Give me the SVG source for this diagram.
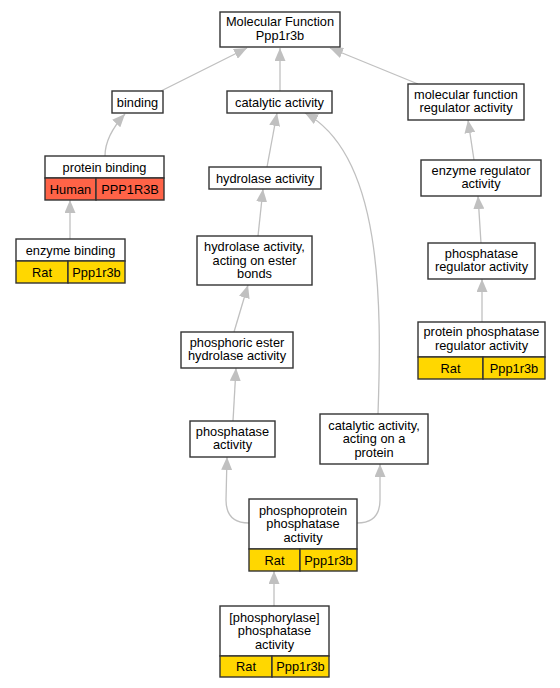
<svg xmlns="http://www.w3.org/2000/svg" width="560" height="688" viewBox="0 0 560 688">
<style>
text{font-family:"Liberation Sans",Arial,sans-serif;font-size:12.8px;fill:#000;text-anchor:middle}
.n{fill:#fff;stroke:#333;stroke-width:1.4}
.r{fill:#ff6347;stroke:#333;stroke-width:1.4}
.y{fill:#ffd700;stroke:#333;stroke-width:1.4}
.e{fill:none;stroke:#c0c0c0;stroke-width:1.3}
</style>
<defs>
<marker id="a" markerWidth="13" markerHeight="11" refX="13" refY="5.5" orient="auto" markerUnits="userSpaceOnUse">
<path d="M0,0 L13,5.5 L0,11 z" fill="#c0c0c0"/>
</marker>
</defs>
<rect width="560" height="688" fill="#fff"/>
<g id="edges">
<path class="e" marker-end="url(#a)" d="M161,91 L247,48"/>
<path class="e" marker-end="url(#a)" d="M280,91 L280,48"/>
<path class="e" marker-end="url(#a)" d="M418,84 L330,48"/>
<path class="e" marker-end="url(#a)" d="M105,156 C105,140 114,126 125,114"/>
<path class="e" marker-end="url(#a)" d="M70,239 L70,200"/>
<path class="e" marker-end="url(#a)" d="M267,167 L277,113"/>
<path class="e" marker-end="url(#a)" d="M258,236 L263,189"/>
<path class="e" marker-end="url(#a)" d="M234,332 L248,285"/>
<path class="e" marker-end="url(#a)" d="M233,421 L236,368"/>
<path class="e" marker-end="url(#a)" d="M249,523 C232,523 226,513 226,500 L227,457"/>
<path class="e" marker-end="url(#a)" d="M357,523 C374,523 380,513 380,500 L380,464"/>
<path class="e" marker-end="url(#a)" d="M378,414 C382,300 382,155 305,113"/>
<path class="e" marker-end="url(#a)" d="M474,160 L468,120"/>
<path class="e" marker-end="url(#a)" d="M481,243 L478,196"/>
<path class="e" marker-end="url(#a)" d="M482,322 L482,279"/>
<path class="e" marker-end="url(#a)" d="M274,606 L274,571"/>
</g>
<g id="mf"><rect class="n" x="220" y="12" width="120" height="35"/><text x="280" y="26.2">Molecular Function</text><text x="280" y="39.8">Ppp1r3b</text></g>
<g id="binding"><rect class="n" x="112" y="91" width="51" height="22"/><text x="137.5" y="106.5">binding</text></g>
<g id="catalytic"><rect class="n" x="227" y="91" width="105" height="22"/><text x="279.5" y="106.5">catalytic activity</text></g>
<g id="mfra"><rect class="n" x="408" y="84" width="116" height="36"/><text x="466" y="98.7">molecular function</text><text x="466" y="112.2">regulator activity</text></g>
<g id="pbinding"><rect class="n" x="45" y="156" width="119" height="22"/><text x="104.5" y="171.5">protein binding</text>
<rect class="r" x="45" y="178" width="51" height="22"/><rect class="r" x="96" y="178" width="68" height="22"/><text x="70.5" y="193.5">Human</text><text x="130" y="193.5">PPP1R3B</text></g>
<g id="ebinding"><rect class="n" x="16" y="239" width="109" height="22"/><text x="70.5" y="254.5">enzyme binding</text>
<rect class="y" x="16" y="261" width="52" height="22"/><rect class="y" x="68" y="261" width="57" height="22"/><text x="42" y="276.5">Rat</text><text x="96.5" y="276.5">Ppp1r3b</text></g>
<g id="hydrolase"><rect class="n" x="209" y="167" width="112" height="22"/><text x="265" y="182.5">hydrolase activity</text></g>
<g id="hydester"><rect class="n" x="197" y="236" width="115" height="49"/><text x="254.5" y="251">hydrolase activity,</text><text x="254.5" y="264.5">acting on ester</text><text x="254.5" y="278">bonds</text></g>
<g id="enzreg"><rect class="n" x="421" y="160" width="120" height="36"/><text x="481" y="174.7">enzyme regulator</text><text x="481" y="188.2">activity</text></g>
<g id="phosreg"><rect class="n" x="428" y="243" width="107" height="36"/><text x="481.5" y="257.7">phosphatase</text><text x="481.5" y="271.2">regulator activity</text></g>
<g id="ppreg"><rect class="n" x="418" y="322" width="127" height="35"/><text x="481.5" y="336.2">protein phosphatase</text><text x="481.5" y="349.7">regulator activity</text>
<rect class="y" x="418" y="357" width="65" height="22"/><rect class="y" x="483" y="357" width="62" height="22"/><text x="450.5" y="372.5">Rat</text><text x="514" y="372.5">Ppp1r3b</text></g>
<g id="phosester"><rect class="n" x="181" y="332" width="112" height="36"/><text x="237" y="346.7">phosphoric ester</text><text x="237" y="360.2">hydrolase activity</text></g>
<g id="phosact"><rect class="n" x="190" y="421" width="85" height="36"/><text x="232.5" y="435.7">phosphatase</text><text x="232.5" y="449.2">activity</text></g>
<g id="catprot"><rect class="n" x="320" y="414" width="108" height="50"/><text x="374" y="429.5">catalytic activity,</text><text x="374" y="443">acting on a</text><text x="374" y="456.5">protein</text></g>
<g id="phosprot"><rect class="n" x="249" y="499" width="108" height="50"/><text x="303" y="514.5">phosphoprotein</text><text x="303" y="528">phosphatase</text><text x="303" y="541.5">activity</text>
<rect class="y" x="249" y="549" width="51" height="22"/><rect class="y" x="300" y="549" width="57" height="22"/><text x="274.5" y="564.5">Rat</text><text x="328.5" y="564.5">Ppp1r3b</text></g>
<g id="phoslase"><rect class="n" x="220" y="606" width="109" height="50"/><text x="274.5" y="621.5">[phosphorylase]</text><text x="274.5" y="635">phosphatase</text><text x="274.5" y="648.5">activity</text>
<rect class="y" x="220" y="656" width="52" height="21"/><rect class="y" x="272" y="656" width="57" height="21"/><text x="246" y="671">Rat</text><text x="300.5" y="671">Ppp1r3b</text></g>
</svg>
